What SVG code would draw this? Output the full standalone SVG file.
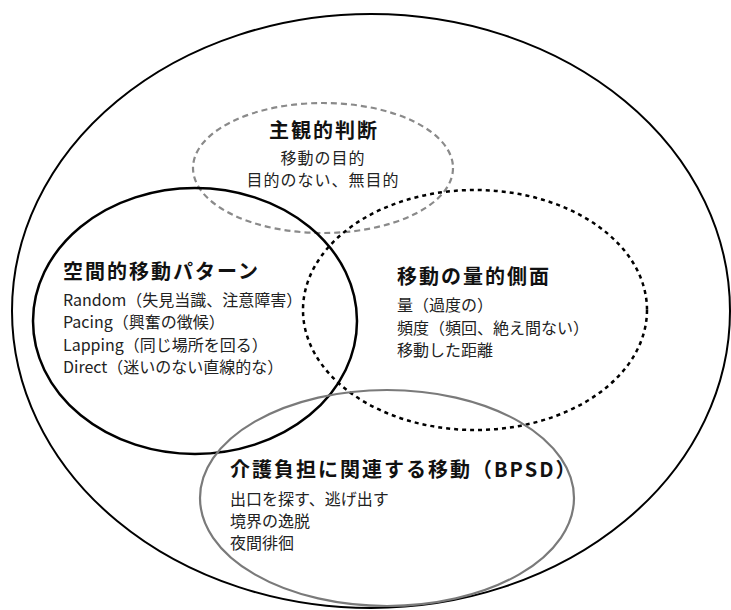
<svg xmlns="http://www.w3.org/2000/svg" width="731" height="610" viewBox="0 0 731 610">
<style>
  text { font-family: "Noto Sans CJK JP", "Noto Sans", sans-serif; fill: #111; }
  .title { font-size: 20px; font-weight: bold; letter-spacing: 2px; }
  .line { font-size: 16px; fill: #222; }
  .shape { fill: none; }
</style>
<rect width="731" height="610" fill="#ffffff"/>
<g id="outer">
  <ellipse class="shape" cx="371" cy="311" rx="359" ry="297" stroke="#000" stroke-width="2"/>
</g>
<g id="subjective">
  <ellipse class="shape" cx="323" cy="168" rx="130" ry="65" stroke="#8a8a8a" stroke-width="2.2" stroke-dasharray="6 4"/>
  <text class="title" x="324" y="138" text-anchor="middle">主観的判断</text>
  <text class="line" x="323" y="164" text-anchor="middle" letter-spacing="1">移動の目的</text>
  <text class="line" x="323" y="186" text-anchor="middle" letter-spacing="1">目的のない、無目的</text>
</g>
<g id="spatial">
  <ellipse class="shape" cx="195" cy="321" rx="162" ry="133" stroke="#000" stroke-width="2.5"/>
  <text class="title" x="63" y="279">空間的移動パターン</text>
  <text class="line" x="63" y="306">Random（失見当識、注意障害）</text>
  <text class="line" x="63" y="328">Pacing（興奮の徴候）</text>
  <text class="line" x="63" y="351">Lapping（同じ場所を回る）</text>
  <text class="line" x="63" y="373">Direct（迷いのない直線的な）</text>
</g>
<g id="quantitative">
  <ellipse class="shape" cx="475" cy="310" rx="172" ry="120" stroke="#000" stroke-width="2.5" stroke-dasharray="4 4"/>
  <text class="title" x="397" y="284">移動の量的側面</text>
  <text class="line" x="397" y="311">量（過度の）</text>
  <text class="line" x="397" y="334">頻度（頻回、絶え間ない）</text>
  <text class="line" x="397" y="356">移動した距離</text>
</g>
<g id="bpsd">
  <ellipse class="shape" cx="387" cy="498" rx="187" ry="108" stroke="#7a7a7a" stroke-width="2.2"/>
  <text class="title" x="230" y="477" letter-spacing="0.5">介護負担に関連する移動（BPSD）</text>
  <text class="line" x="230" y="505">出口を探す、逃げ出す</text>
  <text class="line" x="230" y="527">境界の逸脱</text>
  <text class="line" x="230" y="549">夜間徘徊</text>
</g>
<g id="connectors"></g>
</svg>
